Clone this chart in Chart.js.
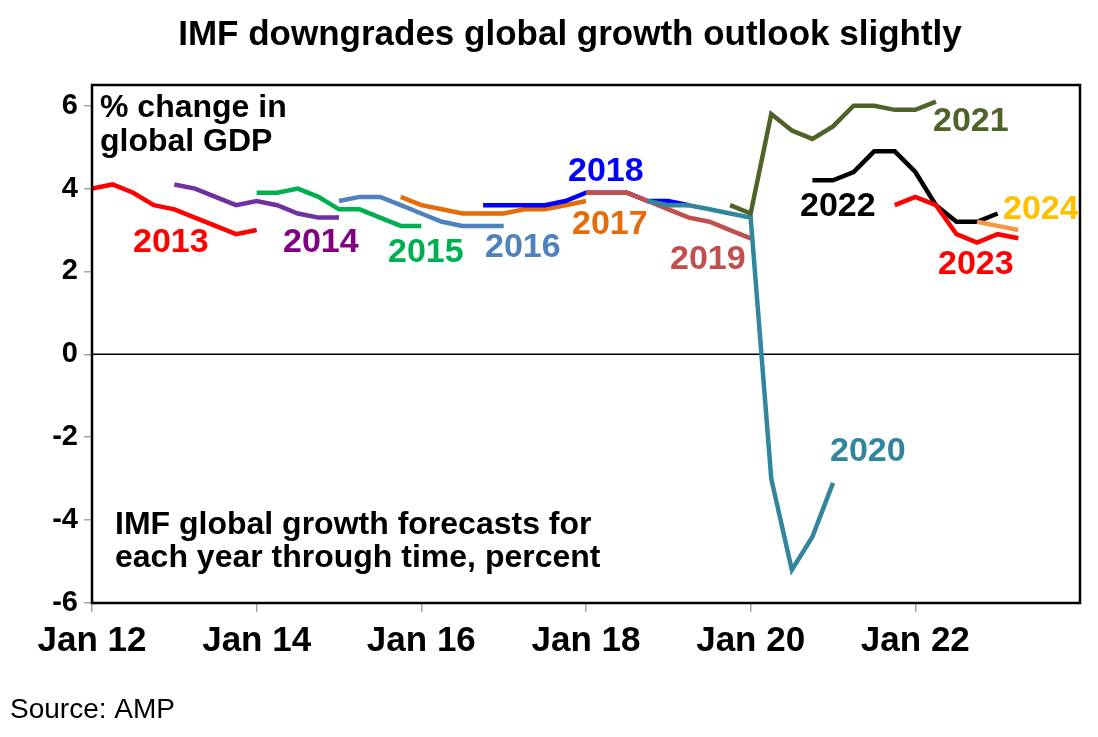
<!DOCTYPE html>
<html>
<head>
<meta charset="utf-8">
<script src="https://cdn.jsdelivr.net/npm/chart.js@4.4.1/dist/chart.umd.min.js"></script>
<style>
  body { margin: 0; background: #fff; }
  #chart { display: block; }
</style>
</head>
<body>
<canvas id="chart" width="1098" height="737"></canvas>
<script>
// Forecast year each line refers to
const years = ["2013", "2014", "2015", "2016", "2017", "2018", "2019", "2020", "2021", "2022", "2023", "2024"];

// Month (after Jan 2012) of the first forecast shown for each year; forecasts are quarterly after that
const startMonth = [0, 12, 24, 36, 45, 57, 72, 81, 93, 105, 117, 129];

// IMF forecasts, % change in global GDP
const f2013 = [4.0, 4.1, 3.9, 3.6, 3.5, 3.3, 3.1, 2.9, 3.0];
const f2014 = [4.1, 4.0, 3.8, 3.6, 3.7, 3.6, 3.4, 3.3, 3.3];
const f2015 = [3.9, 3.9, 4.0, 3.8, 3.5, 3.5, 3.3, 3.1, 3.1];
const f2016 = [3.7, 3.8, 3.8, 3.6, 3.4, 3.2, 3.1, 3.1, 3.1];
const f2017 = [3.8, 3.6, 3.5, 3.4, 3.4, 3.4, 3.5, 3.5, 3.6, 3.7];
const f2018 = [3.6, 3.6, 3.6, 3.6, 3.7, 3.9, 3.9, 3.9, 3.7, 3.7, 3.6];
const f2019 = [3.9, 3.9, 3.9, 3.7, 3.5, 3.3, 3.2, 3.0, 2.8];
const f2020 = [3.7, 3.6, 3.6, 3.5, 3.4, 3.3, -3.0, -5.2, -4.4, -3.1];
const f2021 = [3.6, 3.4, 5.8, 5.4, 5.2, 5.5, 6.0, 6.0, 5.9, 5.9, 6.1];
const f2022 = [4.2, 4.2, 4.4, 4.9, 4.9, 4.4, 3.6, 3.2, 3.2, 3.4];
const f2023 = [3.6, 3.8, 3.6, 2.9, 2.7, 2.9, 2.8];
const f2024 = [3.2, 3.1, 3.0];
const forecasts = [f2013, f2014, f2015, f2016, f2017, f2018, f2019, f2020, f2021, f2022, f2023, f2024];

const xTickLabels = ["Jan 12", "Jan 14", "Jan 16", "Jan 18", "Jan 20", "Jan 22"];
const yTicks = [-6, -4, -2, 0, 2, 4, 6];

const lineColors = ["#ff0000", "#7030a0", "#00b050", "#4f81bd", "#e46c0a", "#0000ff",
  "#c0504d", "#31859c", "#4f6228", "#000000", "#ff0000", "#f79646"];
const labelColors = ["#ff0000", "#800080", "#00b050", "#4f81bd", "#e46c0a", "#0000ff",
  "#c0504d", "#31859c", "#4f6228", "#000000", "#ff0000", "#ffc000"];

// where each year label sits (left edge, middle), in canvas pixels
const labelPos = [[133, 243], [283, 243], [388, 253], [485, 248], [572, 225], [568, 172],
  [670, 260], [830, 452], [933, 122], [800, 207], [938, 265], [1003, 210]];

const FONT = "Liberation Sans, Arial, sans-serif";

const datasets = years.map((yr, k) => ({
  label: yr,
  data: forecasts[k].map((v, i) => ({ x: startMonth[k] + 3 * i, y: v })),
  borderColor: lineColors[k],
  borderWidth: 4.5,
  pointRadius: 0,
  tension: 0,
  fill: false,
  order: years.length - k,
}));

// Text, frame and zero line
const decorations = {
  id: "decorations",
  beforeDatasetsDraw(chart) {
    const { ctx, chartArea, scales } = chart;
    const y0 = scales.y.getPixelForValue(0);
    ctx.save();
    ctx.strokeStyle = "#000";
    ctx.lineWidth = 1.5;
    ctx.beginPath();
    ctx.moveTo(chartArea.left, y0);
    ctx.lineTo(chartArea.right, y0);
    ctx.stroke();
    ctx.restore();
  },
  afterDraw(chart) {
    const { ctx, chartArea } = chart;
    ctx.save();
    ctx.strokeStyle = "#000";
    ctx.lineWidth = 2.5;
    ctx.strokeRect(chartArea.left, chartArea.top, chartArea.right - chartArea.left, chartArea.bottom - chartArea.top);

    ctx.fillStyle = "#000";
    ctx.textBaseline = "middle";
    ctx.textAlign = "center";
    ctx.font = "bold 35px " + FONT;
    ctx.fillText("IMF downgrades global growth outlook slightly", 570, 35);

    ctx.textAlign = "left";
    ctx.font = "bold 32px " + FONT;
    ctx.fillText("% change in", 100, 108);
    ctx.fillText("global GDP", 100, 142);

    ctx.fillText("IMF global growth forecasts for", 115, 525);
    ctx.fillText("each year through time, percent", 115, 558);

    ctx.font = "28px " + FONT;
    ctx.fillText("Source: AMP", 10, 710);

    ctx.font = "bold 34px " + FONT;
    years.forEach((yr, k) => {
      ctx.fillStyle = labelColors[k];
      ctx.fillText(yr, labelPos[k][0], labelPos[k][1]);
    });
    ctx.restore();
  },
};

new Chart(document.getElementById("chart"), {
  type: "line",
  data: { datasets },
  options: {
    responsive: false,
    devicePixelRatio: 1,
    animation: false,
    layout: { padding: { top: 85, right: 18, left: 0, bottom: 0 } },
    plugins: {
      legend: { display: false },
      tooltip: { enabled: false },
    },
    scales: {
      x: {
        type: "linear",
        min: 0,
        max: 144,
        afterBuildTicks: (scale) => {
          scale.ticks = xTickLabels.map((_, i) => ({ value: i * 24 }));
        },
        afterFit: (scale) => { scale.height = 134; },
        ticks: {
          callback: (v) => xTickLabels[v / 24] || "",
          color: "#000",
          font: { family: FONT, size: 35, weight: "bold" },
          padding: 8,
          maxRotation: 0,
          autoSkip: false,
        },
        grid: { drawOnChartArea: false, color: "#a6a6a6", tickLength: 9, lineWidth: 1.5 },
        border: { display: false },
      },
      y: {
        min: -6,
        max: 6.5,
        afterBuildTicks: (scale) => {
          scale.ticks = yTicks.map((v) => ({ value: v }));
        },
        afterFit: (scale) => { scale.width = 92; },
        ticks: {
          color: "#000",
          font: { family: FONT, size: 29, weight: "bold" },
          padding: 6,
        },
        grid: { drawOnChartArea: false, color: "#a6a6a6", tickLength: 8, lineWidth: 1.5 },
        border: { display: false },
      },
    },
  },
  plugins: [decorations],
});
</script>
</body>
</html>
